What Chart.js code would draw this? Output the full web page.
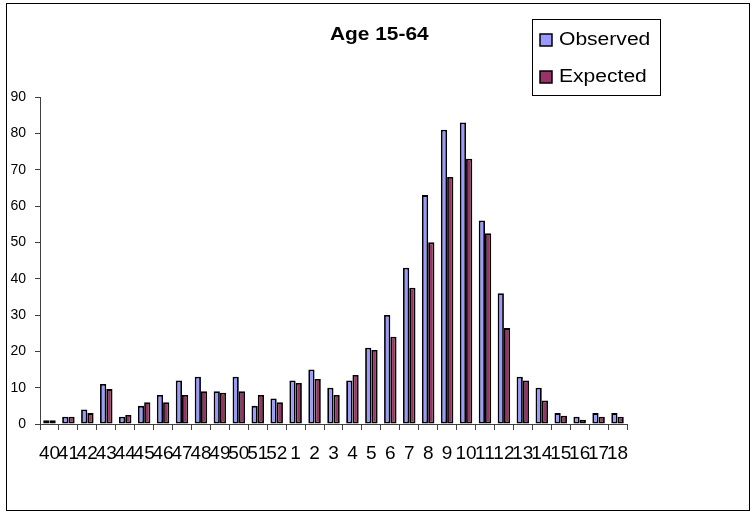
<!DOCTYPE html>
<html>
<head>
<meta charset="utf-8">
<title>Age 15-64</title>
<script src="https://cdn.jsdelivr.net/npm/chart.js@4.4.1/dist/chart.umd.min.js"></script>
<style>
    html, body { margin: 0; padding: 0; background: #fff; }
    canvas { display: block; }
</style>
</head>
<body>
<canvas id="age-chart" width="756" height="514"></canvas>
<script>
// Weeks 40-52 of the first year, then weeks 1-18 of the next
const weeks = ['40', '41', '42', '43', '44', '45', '46', '47', '48', '49', '50', '51', '52',
    '1', '2', '3', '4', '5', '6', '7', '8', '9', '10', '11', '12', '13', '14', '15', '16', '17', '18'];
const observed = [1, 2, 4, 11, 2, 5, 8, 12, 13, 9, 13, 5, 7,
    12, 15, 10, 12, 21, 30, 43, 63, 81, 83, 56, 36, 13, 10, 3, 2, 3, 3];
const expected = [1, 2, 3, 9.6, 2.5, 6, 6, 8, 9, 8.6, 9, 8, 6,
    11.3, 12.4, 8, 13.5, 20.4, 24, 37.5, 50, 68, 73, 52.5, 26.4, 12, 6.5, 2.3, 1.2, 2, 2];
const yTicks = { min: 0, max: 90, step: 10 };

const titleText = 'Age 15-64';
const font = 'Arial, "Liberation Sans", sans-serif';

// text drawn a little wider than the font, like the rest of the sheet
function wideText(ctx, text, x, y, stretch) {
    ctx.save();
    ctx.translate(x, y);
    ctx.scale(stretch, 1);
    ctx.fillText(text, 0, 0);
    ctx.restore();
}

// frame, title and legend box
const decorations = {
    id: 'decorations',
    afterDraw(chart) {
        const ctx = chart.ctx;
        ctx.save();
        ctx.strokeStyle = '#000';
        ctx.lineWidth = 1;
        ctx.strokeRect(6.5, 3.5, 743, 507);

        ctx.fillStyle = '#000';
        ctx.font = 'bold 18px ' + font;
        ctx.textAlign = 'left';
        ctx.textBaseline = 'alphabetic';
        wideText(ctx, titleText, 330, 40, 1.16);

        // legend
        ctx.strokeRect(532.5, 19.5, 128, 76);
        ctx.font = '18px ' + font;
        chart.data.datasets.forEach((ds, i) => {
            const base = 45 + i * 37;
            ctx.fillStyle = ds.backgroundColor;
            ctx.fillRect(540, base - 11, 12, 12);
            ctx.lineWidth = 1.5;
            ctx.strokeRect(540, base - 11, 12, 12);
            ctx.fillStyle = '#000';
            wideText(ctx, ds.label, 559, base, 1.17);
        });
        ctx.restore();
    }
};

const barStyle = {
    borderColor: '#000',
    borderWidth: 1.8,
    borderSkipped: false,
    categoryPercentage: 0.66,
    barPercentage: 1
};

new Chart(document.getElementById('age-chart'), {
    type: 'bar',
    data: {
        labels: weeks,
        datasets: [
            { label: 'Observed', data: observed, backgroundColor: '#9999FF', ...barStyle },
            { label: 'Expected', data: expected, backgroundColor: '#993366', ...barStyle }
        ]
    },
    options: {
        responsive: false,
        animation: false,
        devicePixelRatio: 1,
        layout: {
            padding: { top: 97, right: 129, bottom: 40, left: 0 }
        },
        plugins: {
            legend: { display: false },
            title: { display: false },
            tooltip: { enabled: false }
        },
        scales: {
            x: {
                afterFit: scale => { scale.height = 50; },
                grid: {
                    drawOnChartArea: false,
                    tickLength: 6,
                    color: '#404040'
                },
                border: { color: '#404040', width: 1 },
                ticks: {
                    autoSkip: false,
                    maxRotation: 0,
                    minRotation: 0,
                    padding: 12,
                    color: '#000',
                    font: { family: font, size: 19 }
                }
            },
            y: {
                min: yTicks.min,
                max: yTicks.max,
                afterFit: scale => { scale.width = 40; },
                grid: {
                    drawOnChartArea: false,
                    tickLength: 5,
                    color: '#404040'
                },
                border: { color: '#404040', width: 1 },
                ticks: {
                    stepSize: yTicks.step,
                    padding: 9,
                    color: '#000',
                    font: { family: font, size: 14 }
                }
            }
        }
    },
    plugins: [decorations]
});
</script>
</body>
</html>
